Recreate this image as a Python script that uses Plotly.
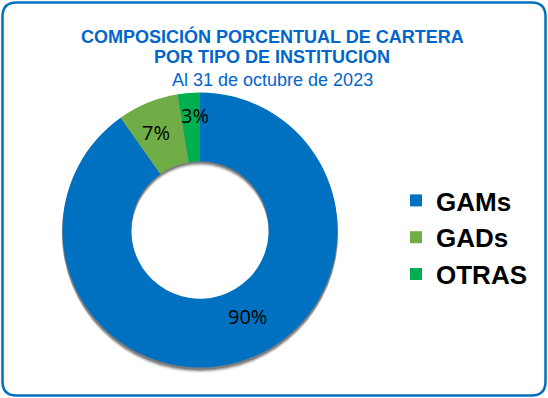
import math
import plotly.graph_objects as go

# ---- data ----
categories = ["GAMs", "GADs", "OTRAS"]
values = [90.2, 7.2, 2.6]
colors = ["#0070C0", "#70AD47", "#00B050"]
title_lines = ["COMPOSICIÓN PORCENTUAL DE CARTERA", "POR TIPO DE INSTITUCION", "Al 31 de octubre de 2023"]

W, H = 548, 398
cx, cy, R = 200.0, 230.0, 137.5
hole = 0.5


def px(x):
    return x / W


def py(y):
    return 1 - y / H


fig = go.Figure()

# soft shadow layers
for off, op in [(5, 0.08), (4, 0.12), (3, 0.18), (2, 0.25)]:
    fig.add_trace(go.Pie(
        values=[1], labels=["shadow"], hole=hole * (R) / (R + 0.5), sort=False,
        marker=dict(colors=["rgba(0,0,0,%.2f)" % op], line=dict(width=0)),
        textinfo="none", hoverinfo="skip", showlegend=False,
        domain=dict(x=[px(cx - R - 0.5), px(cx + R + 0.5)],
                    y=[py(cy + off + R + 0.5), py(cy + off - R - 0.5)]),
    ))

fig.add_trace(go.Pie(
    labels=categories, values=values, hole=hole, sort=False,
    direction="clockwise", rotation=0,
    marker=dict(colors=colors, line=dict(width=0)),
    textinfo="none",
    domain=dict(x=[px(cx - R), px(cx + R)], y=[py(cy + R), py(cy - R)]),
))

# percentage labels computed from data
total = sum(values)
label_r = [0.72, 0.78, 0.83]
label_nudge = [-11, -2, 2]
start = 0.0
for v, lr, nd in zip(values, label_r, label_nudge):
    sweep = v / total * 360
    mid = math.radians(start + sweep / 2 + nd)
    lx = cx + lr * R * math.sin(mid)
    ly = cy - lr * R * math.cos(mid)
    pct = int(math.floor(v / total * 100 + 0.5))
    fig.add_annotation(x=px(lx), y=py(ly), xref="paper", yref="paper",
                       text=f"{pct}%", showarrow=False,
                       font=dict(family="Open Sans", size=20, color="#000000"),
                       xanchor="center", yanchor="middle")
    start += sweep

# titles
title_y = [36.5, 57.5, 79.5]
for i, (t, ty) in enumerate(zip(title_lines, title_y)):
    fig.add_annotation(x=px(272), y=py(ty), xref="paper", yref="paper",
                       text=(f"<b>{t}</b>" if i < 2 else t), showarrow=False,
                       font=dict(family="Liberation Sans, Arial", size=18, color="#0066CC"),
                       xanchor="center", yanchor="middle")

# rounded border
x0, y0, x1, y1, r = 2.5, 2.5, 545.5, 395.5, 14
path = (f"M {px(x0 + r)},{py(y0)} L {px(x1 - r)},{py(y0)} Q {px(x1)},{py(y0)} {px(x1)},{py(y0 + r)} "
        f"L {px(x1)},{py(y1 - r)} Q {px(x1)},{py(y1)} {px(x1 - r)},{py(y1)} "
        f"L {px(x0 + r)},{py(y1)} Q {px(x0)},{py(y1)} {px(x0)},{py(y1 - r)} "
        f"L {px(x0)},{py(y0 + r)} Q {px(x0)},{py(y0)} {px(x0 + r)},{py(y0)} Z")
fig.add_shape(type="path", path=path, xref="paper", yref="paper",
              line=dict(color="#0070C0", width=2.5), layer="above")

fig.update_layout(
    width=W, height=H,
    margin=dict(l=0, r=0, t=0, b=0),
    paper_bgcolor="#FFFFFF", plot_bgcolor="#FFFFFF",
    showlegend=True,
    legend=dict(x=px(396), y=py(237.5), xanchor="left", yanchor="middle",
                font=dict(family="Liberation Sans, Arial", size=26, color="#000000", weight="bold"),
                bgcolor="rgba(0,0,0,0)", itemclick=False, itemdoubleclick=False),
)

fig.write_html("out.html", config={"displayModeBar": False},
               post_script="document.body.style.margin='0';document.body.style.padding='0';document.body.style.overflow='hidden';")
